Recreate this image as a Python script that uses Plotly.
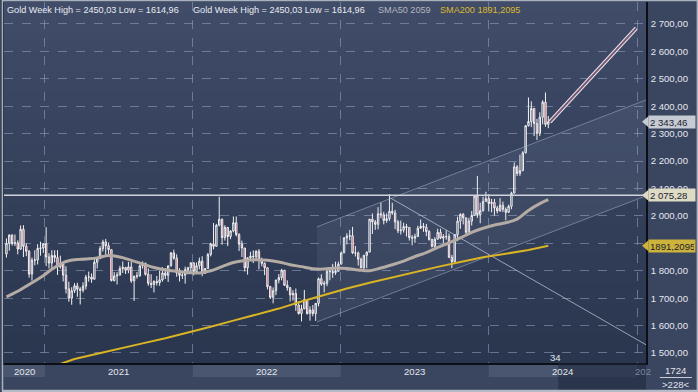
import plotly.graph_objects as go
import pandas as pd

# ---------------- data ----------------
weeks = pd.date_range("2020-09-28", periods=192, freq="7D")

opens = [
    1861, 1900, 1930, 1899, 1902, 1879, 1951, 1889, 1871, 1788, 1839, 1839, 1881, 1883,
    1898, 1850, 1828, 1856, 1848, 1814, 1824, 1784, 1734, 1700, 1727, 1745, 1733, 1729, 1744, 1777, 1777, 1769,
    1831, 1844, 1881, 1905, 1891, 1877, 1764, 1781, 1784, 1808, 1812, 1802, 1814, 1763, 1780, 1781, 1818, 1827,
    1787, 1754, 1750, 1761, 1757, 1767, 1792, 1783, 1818, 1865, 1846, 1792, 1783, 1784, 1804, 1811,
    1829, 1797, 1818, 1835, 1791, 1808, 1859, 1898, 1889, 1966, 1988, 1921, 1958, 1925, 1945, 1975, 1932, 1897,
    1883, 1811, 1847, 1853, 1851, 1871, 1840, 1827, 1811, 1742, 1703, 1727, 1766, 1775, 1802, 1747, 1738, 1712,
    1717, 1675, 1644, 1661, 1695, 1644, 1657, 1644, 1681, 1771, 1751, 1754, 1798, 1797, 1793, 1798,
    1824, 1865, 1920, 1926, 1928, 1865, 1865, 1842, 1811, 1856, 1868, 1988, 1978, 1969, 2008, 2004, 1983, 1990,
    2017, 2011, 1978, 1946, 1948, 1961, 1958, 1921, 1919, 1925, 1955, 1962, 1959, 1943, 1914, 1889, 1915, 1940,
    1919, 1924, 1925, 1849, 1833, 1932, 1981, 2006, 1993, 1940, 1981, 2002, 2072, 2005, 2019, 2053,
    2063, 2045, 2049, 2029, 2018, 2039, 2024, 2013, 2035, 2083, 2179, 2155, 2165, 2230, 2329, 2344, 2392, 2337,
    2301, 2360, 2415, 2334,
]
highs = [
    1918, 1933, 1933, 1932, 1911, 1965, 1966, 1900, 1875, 1848, 1875, 1897, 1906, 1900,
    1959, 1864, 1875, 1875, 1875, 1855, 1824, 1816, 1760, 1740, 1755, 1756, 1740, 1758, 1785, 1797, 1790, 1843,
    1845, 1890, 1913, 1916, 1903, 1877, 1795, 1795, 1818, 1834, 1814, 1832, 1832, 1782, 1795, 1823, 1834, 1830,
    1809, 1787, 1765, 1781, 1800, 1813, 1810, 1818, 1868, 1877, 1860, 1809, 1793, 1815, 1814, 1830,
    1831, 1830, 1848, 1853, 1810, 1865, 1902, 1974, 1971, 2070, 1990, 1966, 1960, 1948, 1998, 1998, 1937, 1910,
    1883, 1849, 1869, 1874, 1875, 1879, 1848, 1830, 1813, 1745, 1739, 1767, 1788, 1807, 1803, 1765, 1741, 1729,
    1735, 1688, 1676, 1730, 1697, 1670, 1675, 1682, 1775, 1787, 1763, 1804, 1810, 1825, 1833, 1833,
    1870, 1922, 1937, 1949, 1960, 1890, 1870, 1848, 1858, 1870, 1989, 2009, 1985, 2032, 2049, 2015, 2009, 2079,
    2048, 2022, 1985, 1983, 1975, 1971, 1959, 1930, 1935, 1964, 1987, 1974, 1971, 1948, 1917, 1922, 1953, 1953,
    1933, 1947, 1936, 1858, 1933, 1997, 2009, 2010, 1993, 1993, 2018, 2075, 2146, 2048, 2070, 2088,
    2079, 2062, 2062, 2036, 2065, 2052, 2031, 2041, 2088, 2195, 2185, 2223, 2236, 2330, 2432, 2418, 2392, 2354,
    2378, 2422, 2450.03, 2364,
]
lows = [
    1848, 1873, 1892, 1890, 1860, 1876, 1850, 1853, 1775, 1764, 1820, 1823, 1855, 1865,
    1817, 1808, 1802, 1831, 1785, 1808, 1761, 1717, 1687, 1676, 1719, 1705, 1677, 1721, 1732, 1760, 1756, 1769,
    1808, 1844, 1870, 1856, 1861, 1761, 1761, 1750, 1784, 1792, 1788, 1791, 1756, 1690, 1771, 1779, 1808, 1782,
    1745, 1737, 1721, 1746, 1745, 1760, 1770, 1759, 1815, 1840, 1778, 1761, 1770, 1753, 1787, 1790,
    1783, 1796, 1805, 1780, 1788, 1808, 1852, 1878, 1889, 1962, 1895, 1910, 1890, 1915, 1940, 1925, 1872, 1850,
    1797, 1786, 1840, 1828, 1836, 1805, 1816, 1784, 1732, 1697, 1681, 1711, 1754, 1765, 1745, 1727, 1688, 1691,
    1654, 1640, 1614.96, 1660, 1640, 1618, 1634, 1617, 1670, 1745, 1721, 1744, 1765, 1774, 1785, 1797,
    1824, 1865, 1896, 1911, 1861, 1852, 1819, 1809, 1804, 1809, 1867, 1934, 1949, 1951, 1992, 1969, 1975, 1982,
    2004, 1952, 1937, 1932, 1939, 1925, 1910, 1893, 1902, 1923, 1953, 1942, 1926, 1910, 1885, 1884, 1914, 1915,
    1901, 1913, 1846, 1810, 1831, 1908, 1953, 1969, 1932, 1931, 1965, 2002, 1993, 1973, 2016, 2052,
    2016, 2013, 2001, 2009, 2016, 2014, 1984, 2011, 2024, 2083, 2146, 2146, 2163, 2228, 2326, 2324, 2291, 2277,
    2291, 2334, 2325, 2320,
]
closes = [
    1900, 1930, 1899, 1902, 1879, 1951, 1889, 1871, 1788, 1839, 1839, 1881, 1883, 1898,
    1850, 1828, 1856, 1848, 1814, 1824, 1784, 1734, 1700, 1727, 1745, 1733, 1729, 1744, 1777, 1777, 1769, 1831,
    1844, 1881, 1905, 1891, 1877, 1764, 1781, 1784, 1808, 1812, 1802, 1814, 1763, 1780, 1781, 1818, 1827, 1787,
    1754, 1750, 1761, 1757, 1767, 1792, 1783, 1818, 1865, 1846, 1792, 1783, 1784, 1804, 1811, 1829,
    1797, 1818, 1835, 1791, 1808, 1859, 1898, 1889, 1966, 1988, 1921, 1958, 1925, 1945, 1975, 1932, 1897, 1883,
    1811, 1847, 1853, 1851, 1871, 1840, 1827, 1811, 1742, 1703, 1727, 1766, 1775, 1802, 1747, 1738, 1712, 1717,
    1675, 1644, 1661, 1695, 1644, 1657, 1644, 1681, 1771, 1751, 1754, 1798, 1797, 1793, 1798, 1824,
    1865, 1920, 1926, 1928, 1865, 1865, 1842, 1811, 1856, 1868, 1988, 1978, 1969, 2008, 2004, 1983, 1990, 2017,
    2011, 1978, 1946, 1948, 1961, 1958, 1921, 1919, 1925, 1955, 1962, 1959, 1943, 1914, 1889, 1915, 1940, 1919,
    1924, 1925, 1849, 1833, 1932, 1981, 2006, 1993, 1940, 1981, 2002, 2072, 2005, 2019, 2053, 2063,
    2045, 2049, 2029, 2018, 2039, 2024, 2013, 2035, 2083, 2179, 2155, 2165, 2230, 2329, 2344, 2392, 2337, 2301,
    2360, 2415, 2334, 2343.46,
]

sma50_dates = [
    "2020-09-28", "2020-10-26", "2020-11-23", "2020-12-21", "2021-01-18", "2021-02-15", "2021-03-15",
    "2021-04-12", "2021-05-10", "2021-06-07", "2021-07-05", "2021-08-02", "2021-08-30", "2021-09-27",
    "2021-10-25", "2021-11-22", "2021-12-20", "2022-01-17", "2022-02-14", "2022-03-14", "2022-04-11",
    "2022-05-09", "2022-06-06", "2022-07-04", "2022-08-01", "2022-08-29", "2022-09-26", "2022-10-24",
    "2022-11-21", "2022-12-19", "2023-01-16", "2023-02-13", "2023-03-13", "2023-04-10", "2023-05-08",
    "2023-06-05", "2023-07-03", "2023-07-31", "2023-08-28", "2023-09-25", "2023-10-23", "2023-11-20",
    "2023-12-18", "2024-01-15", "2024-02-12", "2024-03-11", "2024-04-08", "2024-05-06", "2024-05-27",
]
sma50_vals = [
    1705, 1725, 1750, 1775, 1805, 1830, 1840, 1843, 1847, 1856, 1850, 1838, 1825, 1812,
    1803, 1798, 1794, 1792, 1800, 1815, 1830, 1837, 1840, 1838, 1832, 1822, 1815, 1807,
    1806, 1810, 1808, 1803, 1800, 1810, 1822, 1835, 1852, 1866, 1885, 1902, 1920, 1940,
    1955, 1967, 1975, 1988, 2020, 2045, 2059,
]

sma200_dates = [
    "2021-02-08", "2021-03-15", "2021-05-10", "2021-07-05", "2021-08-30", "2021-10-25", "2021-12-20",
    "2022-02-14", "2022-04-11", "2022-06-06", "2022-08-01", "2022-09-26", "2022-11-21", "2023-01-16",
    "2023-03-13", "2023-05-08", "2023-07-03", "2023-08-28", "2023-10-23", "2023-12-18", "2024-02-12",
    "2024-04-08", "2024-05-27",
]
sma200_vals = [
    1460, 1478, 1497, 1515, 1535, 1554, 1574, 1596, 1618, 1640, 1662, 1688, 1712, 1735,
    1756, 1776, 1795, 1814, 1832, 1849, 1862, 1876, 1891.2095,
]

y_ticks = [1500, 1600, 1700, 1800, 1900, 2000, 2100, 2200, 2300, 2400, 2500, 2600, 2700]
y_hidden_tick = 1900  # covered by the SMA200 price tag in the original
y_tick_labels = ["" if v == y_hidden_tick else f"{v:,.2f}".replace(",", " ").replace(".", ",") for v in y_ticks]
year_starts = ["2021-01-01", "2022-01-01", "2023-01-01", "2024-01-01", "2025-01-01"]
year_labels = ["2020", "2021", "2022", "2023", "2024"]
year_label_pos = ["2020-11-11", "2021-07-02", "2022-07-02", "2023-07-02", "2024-07-02"]

channel_x = ["2022-11-03", "2025-01-23"]
channel_upper = [1960, 2423]
channel_lower = [1613, 2073]
down_line_x = ["2023-05-04", "2025-01-23"]
down_line_y = [2065, 1530]
level_price = 2075.28
proj_x = ["2024-05-31", "2024-12-30"]
proj_y = [2343, 2685]
last_price = 2343.46
sma50_last = 2059
sma200_last = 1891.2095

x_range = ["2020-09-22", "2025-01-23"]
y_range = [1463.5, 2780.2]

# ---------------- figure ----------------
W, H = 698, 392
ML, MR, MT, MB = 2, 52, 2, 29
PW, PH = W - ML - MR, H - MT - MB


def px(x):
    return (x - ML) / PW


def py(y):
    return (H - MB - y) / PH


FONT = "Liberation Sans"
fig = go.Figure()

# channel fill
fig.add_trace(go.Scatter(
    x=[channel_x[0], channel_x[1], channel_x[1], channel_x[0], channel_x[0]],
    y=[channel_upper[0], channel_upper[1], channel_lower[1], channel_lower[0], channel_upper[0]],
    fill="toself", fillcolor="rgba(200,210,235,0.075)", mode="none", hoverinfo="skip"))
for yy in (channel_upper, channel_lower):
    fig.add_trace(go.Scatter(x=channel_x, y=yy, mode="lines",
                             line=dict(color="rgba(185,195,215,0.45)", width=1), hoverinfo="skip"))
fig.add_trace(go.Scatter(x=down_line_x, y=down_line_y, mode="lines",
                         line=dict(color="rgba(200,206,222,0.7)", width=1), hoverinfo="skip"))

fig.add_trace(go.Candlestick(
    x=weeks, open=opens, high=highs, low=lows, close=closes,
    increasing=dict(line=dict(color="#f2f2f2", width=1), fillcolor="#34405a"),
    decreasing=dict(line=dict(color="#f2f2f2", width=1), fillcolor="#b8324e"),
    whiskerwidth=0, hoverinfo="skip"))

fig.add_trace(go.Scatter(x=sma200_dates, y=sma200_vals, mode="lines",
                         line=dict(color="#d9b424", width=2), hoverinfo="skip"))
fig.add_trace(go.Scatter(x=sma50_dates, y=sma50_vals, mode="lines",
                         line=dict(color="#b3aba4", width=3, shape="spline"), hoverinfo="skip"))
fig.add_trace(go.Scatter(x=x_range, y=[level_price, level_price], mode="lines",
                         line=dict(color="#d0d4de", width=1.5), hoverinfo="skip"))
fig.add_trace(go.Scatter(x=proj_x, y=proj_y, mode="lines",
                         line=dict(color="#e6e6ee", width=4), hoverinfo="skip"))
fig.add_trace(go.Scatter(x=proj_x, y=proj_y, mode="lines",
                         line=dict(color="#7a5670", width=2), hoverinfo="skip"))

shapes = []
# plot background gradient
N = 36
top_c, bot_c = (64, 76, 104), (42, 53, 78)
for i in range(N):
    t = i / (N - 1)
    c = tuple(round(top_c[k] + (bot_c[k] - top_c[k]) * t) for k in range(3))
    shapes.append(dict(type="rect", xref="paper", yref="paper", x0=0, x1=1,
                       y0=1 - (i + 1) / N, y1=1 - i / N, line=dict(width=0),
                       fillcolor=f"rgb{c}", layer="below"))
# year bands
for a, b in [(x_range[0], "2021-01-01"), ("2022-01-01", "2023-01-01"), ("2024-01-01", "2025-01-01")]:
    shapes.append(dict(type="rect", xref="x", yref="paper", x0=a, x1=b,
                       y0=py(377), y1=py(365), line=dict(width=0), fillcolor="#4a5670", layer="below"))
# darker future area under x axis
shapes.append(dict(type="rect", xref="paper", yref="paper", x0=px(558), x1=1,
                   y0=py(390), y1=0, line=dict(width=0), fillcolor="rgba(30,38,58,0.55)", layer="above"))
# right panel separator under 1724
shapes.append(dict(type="line", xref="paper", yref="paper", x0=px(660), x1=px(692),
                   y0=py(377.5), y1=py(377.5), line=dict(color="#c9ced8", width=1)))
# outer frame
shapes.append(dict(type="rect", xref="paper", yref="paper", x0=px(0.5), x1=px(697.5),
                   y0=py(390.5), y1=py(0.5), line=dict(color="#a9b1bd", width=1.5)))
shapes.append(dict(type="line", xref="paper", yref="paper", x0=px(0), x1=px(698),
                   y0=py(391), y1=py(391), line=dict(color="#b4bbc6", width=2)))
# price tag pointers
for price, col in [(last_price, "#c6cad2"), (level_price, "#dedbc5"), (sma200_last, "#cdb33c")]:
    hh = 5.5 / (PH / (y_range[1] - y_range[0]))
    shapes.append(dict(type="path", xref="paper", yref="y",
                       path=f"M {px(642)},{price} L {px(648.5)},{price + hh} L {px(648.5)},{price - hh} Z",
                       fillcolor=col, line=dict(width=0)))

annotations = []
HS = 9.1
hdr_font = dict(family=FONT, size=HS, color="#e8ebf1")
annotations.append(dict(text="Gold Week High = 2450,03 Low = 1614,96", x=px(3), y=py(10),
                        xref="paper", yref="paper", xanchor="left", yanchor="middle",
                        showarrow=False, font=hdr_font))
annotations.append(dict(text="Gold Week High = 2450,03 Low = 1614,96", x=px(190), y=py(10),
                        xref="paper", yref="paper", xanchor="left", yanchor="middle",
                        showarrow=False, font=hdr_font))
annotations.append(dict(text=f"SMA50 {sma50_last}", x=px(375), y=py(10),
                        xref="paper", yref="paper", xanchor="left", yanchor="middle",
                        showarrow=False, font=dict(family=FONT, size=HS, color="#b4b8c0")))
annotations.append(dict(text="SMA200 " + f"{sma200_last}".replace(".", ","), x=px(437), y=py(10),
                        xref="paper", yref="paper", xanchor="left", yanchor="middle",
                        showarrow=False, font=dict(family=FONT, size=HS, color="#ddb92e")))
for lab, pos in zip(year_labels, year_label_pos):
    annotations.append(dict(text=lab, x=pos, y=py(371), xref="x", yref="paper",
                            xanchor="center", yanchor="middle", showarrow=False,
                            font=dict(family=FONT, size=9.6, color="#e2e6ee")))
annotations.append(dict(text="202", x=px(633), y=py(371), xref="paper", yref="paper",
                        xanchor="left", yanchor="middle", showarrow=False,
                        font=dict(family=FONT, size=9.6, color="#7d879c")))
annotations.append(dict(text="34", x=px(555), y=py(357), xref="paper", yref="paper",
                        xanchor="center", yanchor="middle", showarrow=False,
                        font=dict(family=FONT, size=9.6, color="#e2e6ee")))
annotations.append(dict(text="1724", x=px(676), y=py(370), xref="paper", yref="paper",
                        xanchor="center", yanchor="middle", showarrow=False,
                        font=dict(family=FONT, size=9.6, color="#e2e6ee")))
annotations.append(dict(text="&gt;228&lt;", x=px(676), y=py(384), xref="paper", yref="paper",
                        xanchor="center", yanchor="middle", showarrow=False,
                        font=dict(family=FONT, size=9.6, color="#e2e6ee")))
for price, txt, col in [(last_price, f"{last_price:,.2f}".replace(",", " ").replace(".", ","), "#c6cad2"),
                        (level_price, f"{level_price:,.2f}".replace(",", " ").replace(".", ","), "#dedbc5"),
                        (sma200_last, f"{sma200_last}".replace(".", ","), "#cdb33c")]:
    annotations.append(dict(text=txt, x=px(648), y=price, xref="paper", yref="y",
                            xanchor="left", yanchor="middle", showarrow=False,
                            bgcolor=col, borderpad=1, width=44, height=10, align="left",
                            font=dict(family=FONT, size=9.6, color="#1b2130")))

fig.update_layout(
    width=W, height=H, margin=dict(l=ML, r=MR, t=MT, b=MB, pad=0),
    paper_bgcolor="#3a455f", plot_bgcolor="rgba(0,0,0,0)",
    showlegend=False, hovermode=False,
    shapes=shapes, annotations=annotations,
    xaxis=dict(type="date", range=x_range, tickvals=year_starts, showticklabels=False,
               showgrid=True, gridcolor="rgba(150,165,195,0.55)", griddash="dash", gridwidth=1,
               zeroline=False, showline=True, linecolor="#0c0f16", linewidth=1.5,
               rangeslider=dict(visible=False), ticks=""),
    yaxis=dict(side="right", range=y_range, tickvals=y_ticks, ticktext=y_tick_labels,
               showgrid=True, gridcolor="rgba(150,165,195,0.55)", griddash="dash", gridwidth=1,
               zeroline=False, showline=True, linecolor="#0c0f16", linewidth=1.5, mirror=True,
               ticks="", ticklabelstandoff=1,
               tickfont=dict(family=FONT, size=9.6, color="#e4e8f0")),
)

fig.write_html("out.html", config={"displayModeBar": False},
               post_script="document.body.style.margin='0';document.body.style.overflow='hidden';")
